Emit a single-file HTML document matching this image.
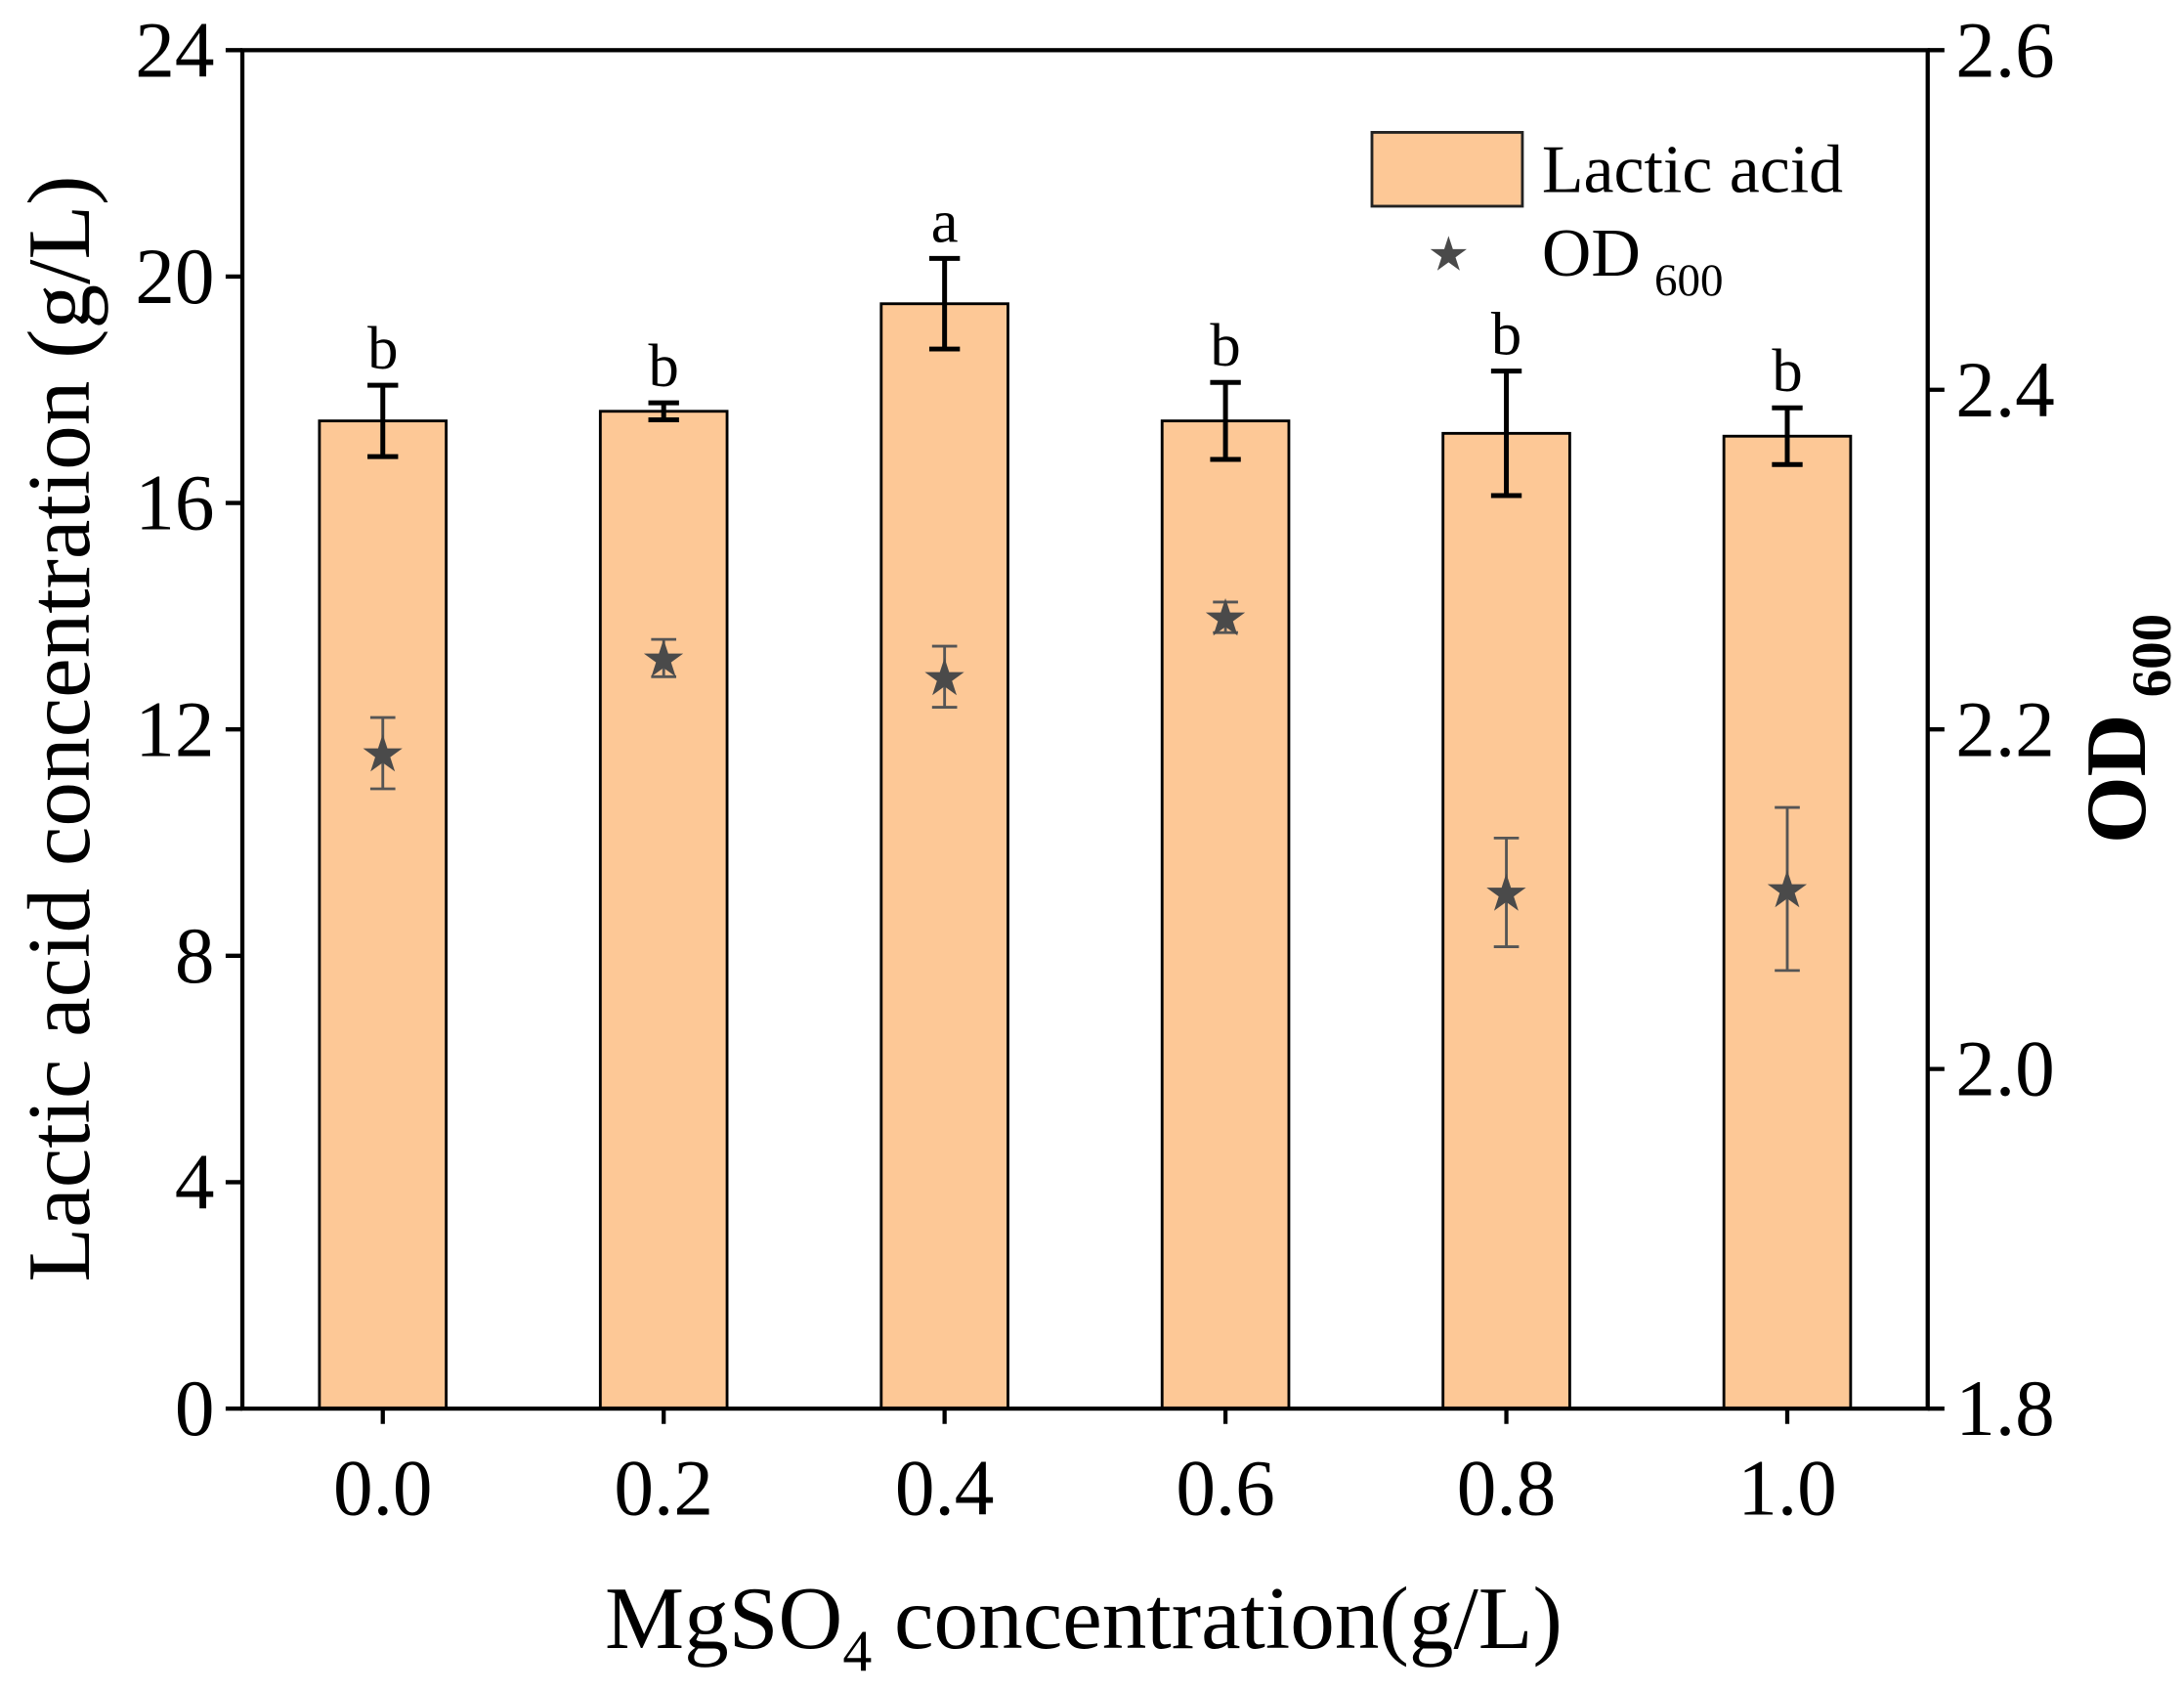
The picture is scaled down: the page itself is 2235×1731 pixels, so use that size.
<!DOCTYPE html>
<html><head><meta charset="utf-8"><style>
html,body{margin:0;padding:0;background:#fff}
svg{display:block}
text{font-family:"Liberation Serif",serif;fill:#000}
</style></head><body>
<svg id="chart" width="2235" height="1731" viewBox="0 0 1568 1214.4" xmlns="http://www.w3.org/2000/svg">
<g id="bars"></g>
<g id="ods"></g>
<rect x="174" y="36" width="1210" height="975" fill="none" stroke="#000" stroke-width="3"/>
<g id="axes"></g>
<text transform="translate(64,523) rotate(-90)" text-anchor="middle" font-size="64">Lactic acid concentration (g/L)</text>
<text transform="translate(1540,523) rotate(-90)" text-anchor="middle" font-size="62" font-weight="bold">OD<tspan font-size="40" dx="12" dy="18">600</tspan></text>
<text x="778" y="1183" text-anchor="middle" font-size="64">MgSO<tspan font-size="42" dy="16">4</tspan><tspan dy="-16"> concentration(g/L)</tspan></text>
<g>
<rect x="985" y="95" width="108" height="53" fill="#fdc896" stroke="#222" stroke-width="2"/>
<text x="1107" y="138" font-size="49">Lactic acid</text>
<text x="1040" y="194" font-size="34" text-anchor="middle" style="fill:#4a4a4a">★</text>
<text x="1107" y="198" font-size="49">OD<tspan font-size="33" dx="10" dy="14">600</tspan></text>
</g>
</svg>
<script>
const categories=["0.0","0.2","0.4","0.6","0.8","1.0"];
const catValues=[0,0.2,0.4,0.6,0.8,1.0];
const lactic=[17.45,17.62,19.52,17.45,17.23,17.18];
const lacticErr=[0.63,0.15,0.8,0.68,1.1,0.5];
const letters=["b","b","a","b","b","b"];
const od=[2.186,2.242,2.231,2.266,2.104,2.106];
const odErr=[0.021,0.011,0.018,0.009,0.032,0.048];
const yTicks=[0,4,8,12,16,20,24];
const y2Ticks=["1.8","2.0","2.2","2.4","2.6"];
const NS="http://www.w3.org/2000/svg";
const L=174,R=1384,T=36,B=1011;
const xS=v=>L+(v+0.1)/1.2*(R-L);
const yS=v=>B-v/24*(B-T);
const y2S=v=>B-(v-1.8)/0.8*(B-T);
function mk(tag,attrs,parent,txt){const e=document.createElementNS(NS,tag);for(const k in attrs)e.setAttribute(k,attrs[k]);if(txt!==undefined)e.textContent=txt;parent.appendChild(e);return e;}
const gb=document.getElementById('bars'),go=document.getElementById('ods'),ga=document.getElementById('axes');
const bw=91;
catValues.forEach((c,i)=>{
 const x=xS(c);
 const r=mk('rect',{x:x-bw/2,y:yS(lactic[i]),width:bw,height:B-yS(lactic[i]),fill:'#fdc896',stroke:'#000','stroke-width':2},gb);
 
 
 const hi=yS(lactic[i]+lacticErr[i]),lo=yS(lactic[i]-lacticErr[i]);
 const e=mk('path',{d:`M${x},${hi}V${lo}M${x-11},${hi}H${x+11}M${x-11},${lo}H${x+11}`,stroke:'#000','stroke-width':3.5,fill:'none'},gb);
 
 
 const t=mk('text',{x:x,y:hi-12,'text-anchor':'middle','font-size':44},gb,letters[i]);
 
 
 const oh=y2S(od[i]+odErr[i]),ol=y2S(od[i]-odErr[i]);
 const oe=mk('path',{d:`M${x},${oh}V${ol}M${x-9},${oh}H${x+9}M${x-9},${ol}H${x+9}`,stroke:'#555','stroke-width':2,fill:'none'},go);
 
 
 const s=mk('text',{x:x,y:y2S(od[i])+13,'text-anchor':'middle','font-size':37,style:'fill:#4a4a4a'},go,'★');
 
 
 const tk=mk('line',{x1:x,x2:x,y1:B,y2:B+11,stroke:'#000','stroke-width':3},ga);
 
 
 const tl=mk('text',{x:x,y:B+76,'text-anchor':'middle','font-size':57},ga,categories[i]);
 
 
});
yTicks.forEach(v=>{
 const y=yS(v);
 const tk=mk('line',{x1:L-12,x2:L,y1:y,y2:y,stroke:'#000','stroke-width':3},ga);
 
 
 const tl=mk('text',{x:L-20,y:y+19,'text-anchor':'end','font-size':57},ga,String(v));
 
 
});
y2Ticks.forEach(v=>{
 const y=y2S(parseFloat(v));
 const tk=mk('line',{x1:R,x2:R+12,y1:y,y2:y,stroke:'#000','stroke-width':3},ga);
 
 
 const tl=mk('text',{x:R+20,y:y+19,'text-anchor':'start','font-size':57},ga,v);
 
 
});
</script>
</body></html>
